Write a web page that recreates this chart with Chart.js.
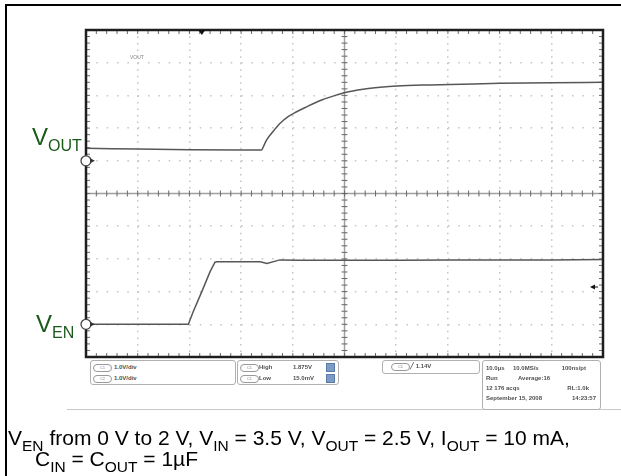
<!DOCTYPE html>
<html>
<head>
<meta charset="utf-8">
<script src="https://cdn.jsdelivr.net/npm/chart.js@4.4.1/dist/chart.umd.min.js"></script>
<style>
html, body { margin: 0; padding: 0; background: #fff; }
body { width: 621px; height: 476px; position: relative; overflow: hidden; font-family: "Liberation Sans", Arial, sans-serif; }
#wrap { position: absolute; left: 0; top: 0; width: 621px; height: 476px; }
.frame { position: absolute; left: 5px; top: 4px; right: -5px; bottom: -5px; border-top: 2px solid #000; border-left: 2px solid #000; }
.lbl { position: absolute; color: #1a5a1a; font-size: 24px; line-height: 24px; white-space: nowrap; }
.lbl sub { font-size: 16px; vertical-align: -6px; line-height: 0; }
.cap { position: absolute; font-size: 21px; line-height: 21px; color: #000; white-space: nowrap; }
.cap sub { font-size: 15.5px; vertical-align: -6px; line-height: 0; }
.shotline { position: absolute; left: 67px; top: 409px; width: 554px; height: 0; border-top: 1px solid #c8c8c8; }
.box { position: absolute; border: 1px solid #b0b0b0; border-radius: 3px; background: #fff; }
.t { position: absolute; font-size: 6px; line-height: 7px; font-weight: bold; color: #505050; white-space: nowrap; }
.pill { position: absolute; width: 17px; height: 6px; border: 1px solid #999; border-radius: 4px; font-size: 4px; line-height: 6px; text-align: center; color: #888; }
.ico { position: absolute; width: 7px; height: 7px; background: #7d9bc7; border: 1px solid #5a7aa8; }
.tiny { position: absolute; font-size: 5px; color: #888; }
</style>
</head>
<body>
<div class="frame"></div>
<div id="wrap"><canvas id="chart"></canvas></div>

<div class="lbl" style="left:32px; top:125px;">V<sub>OUT</sub></div>
<div class="lbl" style="left:36px; top:312px;">V<sub>EN</sub></div>
<div class="tiny" style="left:130px; top:54px;">VOUT</div>

<div class="shotline"></div>

<div class="box" style="left:90px; top:360px; width:144px; height:23px;">
  <div class="pill" style="left:2px; top:3px;">C1</div><div class="t" style="left:23px; top:3px;">1.0V/div</div>
  <div class="pill" style="left:2px; top:14px;">C2</div><div class="t" style="left:23px; top:14px;">1.0V/div</div>
</div>
<div class="box" style="left:237px; top:360px; width:100px; height:23px;">
  <div class="pill" style="left:2px; top:3px;">C1</div><div class="t" style="left:21px; top:3px;">High</div><div class="t" style="left:55px; top:3px;">1.875V</div><div class="ico" style="left:88px; top:2px;"></div>
  <div class="pill" style="left:2px; top:14px;">C1</div><div class="t" style="left:21px; top:14px;">Low</div><div class="t" style="left:55px; top:14px;">15.0mV</div><div class="ico" style="left:88px; top:13px;"></div>
</div>
<div class="box" style="left:382px; top:360px; width:96px; height:12px;">
  <div class="pill" style="left:8px; top:2px;">C1</div><div class="t" style="left:27px; top:2px;">╱ 1.14V</div>
</div>
<div class="box" style="left:482px; top:360px; width:117px; height:48px;">
  <div class="t" style="left:3px; top:4px;">10.0µs</div><div class="t" style="left:30px; top:4px;">10.0MS/s</div><div class="t" style="right:14px; top:4px;">100ns/pt</div>
  <div class="t" style="left:3px; top:14px;">Run</div><div class="t" style="left:35px; top:14px;">Average:16</div>
  <div class="t" style="left:3px; top:24px;">12 176 acqs</div><div class="t" style="right:11px; top:24px;">RL:1.0k</div>
  <div class="t" style="left:3px; top:34px;">September 15, 2008</div><div class="t" style="right:4px; top:34px;">14:23:57</div>
</div>

<div class="cap" style="left:8px; top:427px;">V<sub>EN</sub> from 0 V to 2 V, V<sub>IN</sub> = 3.5 V, V<sub>OUT</sub> = 2.5 V, I<sub>OUT</sub> = 10 mA,</div>
<div class="cap" style="left:35px; top:448px;">C<sub>IN</sub> = C<sub>OUT</sub> = 1µF</div>

<script>
// time in µs (10 µs/div), voltages in V (1 V/div)
var timeOut = [0, 10, 20, 30, 34.0, 34.3, 34.95, 35.9, 37.5, 39.1, 40.75, 42.4, 45.6, 48.8, 50.1, 53.6, 56.9, 60.1, 66.5, 70.4, 80.1, 90, 100];
var vOut    = [0.38, 0.36, 0.34, 0.33, 0.33, 0.43, 0.64, 0.84, 1.14, 1.35, 1.50, 1.63, 1.86, 2.03, 2.09, 2.19, 2.25, 2.29, 2.32, 2.33, 2.37, 2.39, 2.40];

var timeEn = [0, 10, 19.8, 20.75, 22.4, 24.0, 24.95, 25.3, 30, 33.7, 35.0, 37.5, 41.4, 50, 60.7, 70, 80.1, 90, 100];
var vEn    = [0.0, 0.0, 0.0, 0.39, 1.0, 1.61, 1.90, 1.91, 1.91, 1.91, 1.86, 1.97, 1.96, 1.96, 1.96, 1.97, 1.97, 1.97, 1.98];

var trigTime = 22.4;
var trigLevel = 1.14;

function pts(xs, ys) {
    return xs.map(function (t, i) { return { x: t, y: ys[i] }; });
}

function seg(ctx, x1, y1, x2, y2) {
    ctx.beginPath();
    ctx.moveTo(x1, y1);
    ctx.lineTo(x2, y2);
    ctx.stroke();
}

var scopeDecor = {
    id: 'scopeDecor',
    beforeDatasetsDraw: function (chart) {
        var ctx = chart.ctx, a = chart.chartArea, x = chart.scales.x, y = chart.scales.y;
        var cx = x.getPixelForValue(50), cy = y.getPixelForValue(4);
        ctx.save();
        // center crosshair
        ctx.strokeStyle = '#a0a0a0';
        ctx.lineWidth = 1.5;
        seg(ctx, a.left, cy, a.right, cy);
        seg(ctx, cx, a.top, cx, a.bottom);
        // minor ticks, 5 per division
        ctx.strokeStyle = '#6a6a6a';
        ctx.lineWidth = 1;
        for (var t = 0; t <= 100; t += 2) {
            var px = x.getPixelForValue(t);
            seg(ctx, px, a.top, px, a.top + 4);
            seg(ctx, px, a.bottom - 4, px, a.bottom);
            seg(ctx, px, cy - 3, px, cy + 3);
        }
        for (var k = 0; k <= 50; k++) {
            var py = y.getPixelForValue(-1 + k * 0.2);
            seg(ctx, a.left, py, a.left + 4, py);
            seg(ctx, a.right - 4, py, a.right, py);
            seg(ctx, cx - 3, py, cx + 3, py);
        }
        ctx.restore();
    },
    afterDatasetsDraw: function (chart) {
        var ctx = chart.ctx, a = chart.chartArea, x = chart.scales.x, y = chart.scales.y, y2 = chart.scales.y2;
        ctx.save();
        ctx.strokeStyle = '#1e1e1e';
        ctx.lineWidth = 2.5;
        ctx.strokeRect(a.left, a.top, a.right - a.left, a.bottom - a.top);

        // ground markers
        [y2.getPixelForValue(0), y.getPixelForValue(0)].forEach(function (gy) {
            ctx.beginPath();
            ctx.arc(a.left, gy, 5, 0, Math.PI * 2);
            ctx.fillStyle = '#fff';
            ctx.fill();
            ctx.strokeStyle = '#444';
            ctx.lineWidth = 1.3;
            ctx.stroke();
            ctx.beginPath();
            ctx.moveTo(a.left + 4, gy - 2.5);
            ctx.lineTo(a.left + 9, gy);
            ctx.lineTo(a.left + 4, gy + 2.5);
            ctx.fillStyle = '#333';
            ctx.fill();
        });

        // trigger position and level
        var tx = x.getPixelForValue(trigTime);
        ctx.beginPath();
        ctx.moveTo(tx - 3.5, a.top);
        ctx.lineTo(tx + 3.5, a.top);
        ctx.lineTo(tx, a.top + 5);
        ctx.fillStyle = '#111';
        ctx.fill();
        var ty = y.getPixelForValue(trigLevel);
        ctx.beginPath();
        ctx.moveTo(a.right - 13, ty);
        ctx.lineTo(a.right - 8, ty - 2.5);
        ctx.lineTo(a.right - 8, ty + 2.5);
        ctx.fill();
        ctx.lineWidth = 1;
        ctx.strokeStyle = '#111';
        seg(ctx, a.right - 8, ty, a.right - 5, ty);
        ctx.restore();
    }
};

var ctx = document.getElementById('chart');

var chart = new Chart(ctx, {
    type: 'line',
    data: {
        datasets: [
            {
                label: 'VOUT',
                data: pts(timeOut, vOut),
                yAxisID: 'y2',
                borderColor: '#575757',
                borderWidth: 1.5,
                pointRadius: 0,
                cubicInterpolationMode: 'monotone'
            },
            {
                label: 'VEN',
                data: pts(timeEn, vEn),
                yAxisID: 'y',
                borderColor: '#575757',
                borderWidth: 1.5,
                pointRadius: 0,
                tension: 0
            }
        ]
    },
    options: {
        animation: false,
        responsive: true,
        maintainAspectRatio: false,
        layout: { padding: { left: 86, top: 30, right: 18, bottom: 119 } },
        plugins: { legend: { display: false }, tooltip: { enabled: false } },
        scales: {
            x: {
                type: 'linear',
                min: 0,
                max: 100,
                ticks: { stepSize: 10, display: false },
                grid: { color: '#c4c4c4', lineWidth: 1.5, drawTicks: false },
                border: { display: false, dash: [1.5, 5.04] },
                afterFit: function (s) { s.height = 0; }
            },
            y: {
                min: -1,
                max: 9,
                ticks: { stepSize: 1, display: false },
                grid: { color: '#c4c4c4', lineWidth: 1.5, drawTicks: false },
                border: { display: false, dash: [1.5, 8.84] },
                afterFit: function (s) { s.width = 0; }
            },
            y2: {
                display: false,
                min: -6,
                max: 4
            }
        }
    },
    plugins: [scopeDecor]
});
</script>
</body>
</html>
